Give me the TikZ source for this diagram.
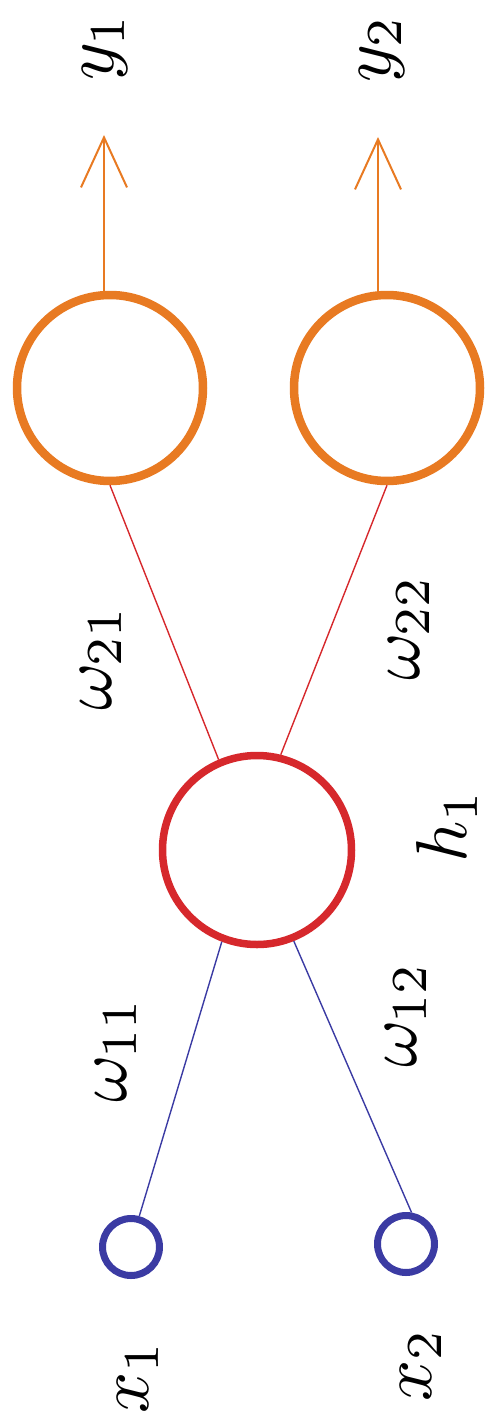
\documentclass[tikz,border=0pt]{standalone}
\usetikzlibrary{arrows.meta}

\definecolor{outorange}{HTML}{E87A22}
\definecolor{hidred}{HTML}{D6282C}
\definecolor{inblue}{HTML}{3B3BA3}

\begin{document}
\begin{tikzpicture}[
  x=1pt,
  y=-1pt,
  line join=round,
  outnode/.style={circle,draw=outorange,line width=8.5pt,minimum size=186pt,inner sep=0pt},
  hidnode/.style={circle,draw=hidred,line width=7.5pt,minimum size=189pt,inner sep=0pt},
  innode/.style={circle,draw=inblue,line width=7pt,minimum size=57pt,inner sep=0pt},
  redlink/.style={draw=hidred,line width=1.4pt},
  bluelink/.style={draw=inblue,line width=1.4pt},
  outarrow/.style={draw=outorange,line width=2pt,-{Straight Barb[length=50pt,width=46pt]}},
  lbl/.style={rotate=90,inner sep=0pt,scale=7.2}
]
  % Frame of the original (rotated) artwork.
  \useasboundingbox (0,0) rectangle (494,1418);

  % Output, hidden and input neurons.
  \node[outnode] (o1) at (110,388) {};
  \node[outnode] (o2) at (387,388) {};
  \node[hidnode] (h) at (257,850) {};
  \node[innode] (x1) at (131,1247) {};
  \node[innode] (x2) at (406,1244) {};

  % Tips of the output arrows.
  \coordinate (y1tip) at (104,135);
  \coordinate (y2tip) at (378,137);

  % Weighted connections.
  \draw[redlink] (o1.south) -- (h.113);
  \draw[redlink] (o2.south) -- (h.76);
  \draw[bluelink] (h.249) -- (x1.75);
  \draw[bluelink] (h.292) -- (x2.80);

  % Outputs leave the orange neurons.
  \draw[outarrow] (o1.north -| y1tip) -- (y1tip);
  \draw[outarrow] (o2.north -| y2tip) -- (y2tip);

  % Labels are set sideways, as in the source figure.
  \node[lbl] (y1lbl) at (105,47) {$y_1$};
  \node[lbl] (y2lbl) at (382,49) {$y_2$};
  \node[lbl] (w21lbl) at (101,658) {$\omega_{21}$};
  \node[lbl] (w22lbl) at (409,628) {$\omega_{22}$};
  \node[lbl] (h1lbl) at (447,826) {$h_1$};
  \node[lbl] (w11lbl) at (116,1050) {$\omega_{11}$};
  \node[lbl] (w12lbl) at (406,1015) {$\omega_{12}$};
  \node[lbl] (x1lbl) at (138,1377) {$x_1$};
  \node[lbl] (x2lbl) at (421,1365) {$x_2$};
\end{tikzpicture}
\end{document}
